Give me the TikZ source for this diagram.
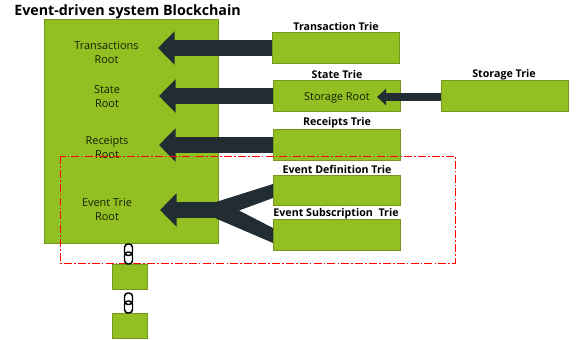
\documentclass[tikz,border=0pt]{standalone}
\usepackage{fontspec}
\setmainfont{Open Sans}
\usetikzlibrary{arrows.meta}
\definecolor{leaf}{HTML}{92C022}
\definecolor{leafedge}{HTML}{759A1B}
\definecolor{slate}{HTML}{222C33}
\tikzset{
  x=0.75pt,y=-0.75pt,
  pane/.style={draw=leafedge,fill=leaf,line width=0.7pt,minimum width=0pt,inner sep=0pt},
  trie/.style={pane,minimum width=95.25pt,minimum height=22.8pt},
  block/.style={pane,minimum width=26.25pt,minimum height=18.75pt},
  rootlabel/.style={font=\fontsize{8.2}{10.5}\selectfont,align=center,text=black!85!leaf,inner sep=0pt},
  trielabel/.style={font=\fontsize{8}{9}\selectfont\bfseries,text=black,inner sep=0pt},
  fatarrow/.style={slate,line width=12pt,-{Triangle[length=12.5pt,width=24.5pt]}},
  thinarrow/.style={slate,line width=6pt,-{Triangle[length=6.8pt,width=12pt]}},
  linkring/.style={draw=black,line width=1.1pt,rounded corners=2.6pt,fill=none},
  redframe/.style={draw=red,line width=0.7pt,dash pattern=on 6pt off 1.6pt on 1.2pt off 1.6pt},
}
\begin{document}
\begin{tikzpicture}
\useasboundingbox (0,0) rectangle (577,339);
\node[anchor=west,inner sep=0pt,font=\fontsize{10.7}{13}\selectfont\bfseries,text=black] (title) at (14,12) {Event-driven system Blockchain};
\node[pane,minimum width=130.5pt,minimum height=168pt] (main) at (131,131) {};
\node[trie] (tx) at (335.5,48) {};
\node[trie] (state) at (336.5,96) {};
\node[trie] (storage) at (504.5,96) {};
\node[trie] (rcpt) at (336.5,145) {};
\node[trie] (def) at (336.5,190.5) {};
\node[trie] (sub) at (336.5,235) {};
\node[block] (b1) at (129.5,276.5) {};
\node[block] (b2) at (129.5,325.5) {};
\node[rootlabel] (txroot) at (106.5,52.7) {Transactions\\Root};
\node[rootlabel] (stroot) at (107,96.7) {State\\Root};
\node[rootlabel] (rcroot) at (107,147.7) {Receipts\\Root};
\node[rootlabel] (evroot) at (107,209.7) {Event Trie\\Root};
\node[rootlabel] (storeroot) at (337,98) {Storage Root};
\node[trielabel] (ltx) at (336,26) {Transaction Trie};
\node[trielabel] (lst) at (337,74) {State Trie};
\node[trielabel] (lsto) at (504,74.5) {Storage Trie};
\node[trielabel] (lrc) at (337,122.5) {Receipts Trie};
\node[trielabel] (ldef) at (337,169) {Event Definition Trie};
\node[trielabel] (lsub) at (336,214) {Event Subscription\ \ Trie};
\coordinate (t1) at (158,48);
\coordinate (t2) at (159,96);
\coordinate (t3) at (159,145);
\coordinate (t4) at (160,210);
\coordinate (s5) at (441,97);
\coordinate (t5) at (377,97);
\coordinate (j) at (218,210);
\draw[fatarrow] (tx.west) -- (t1);
\draw[fatarrow] (state.west) -- (t2);
\draw[fatarrow] (rcpt.west) -- (t3);
\draw[fatarrow] (j) -- (t4);
\draw[thinarrow] (s5) -- (t5);
\fill[slate] (216,202) -- (273,184) -- (273,198) -- (239,210.5) -- (273,228) -- (273,243) -- (216,218.5) -- cycle;
\draw[redframe] (60,156) rectangle (455,263);
\foreach \cy in {244,293}{
  \draw[linkring] (124.5,\cy) rectangle (132.5,\cy+11.5);
  \draw[linkring] (124.5,\cy+8) rectangle (132.5,\cy+20);
}
\end{tikzpicture}
\end{document}
